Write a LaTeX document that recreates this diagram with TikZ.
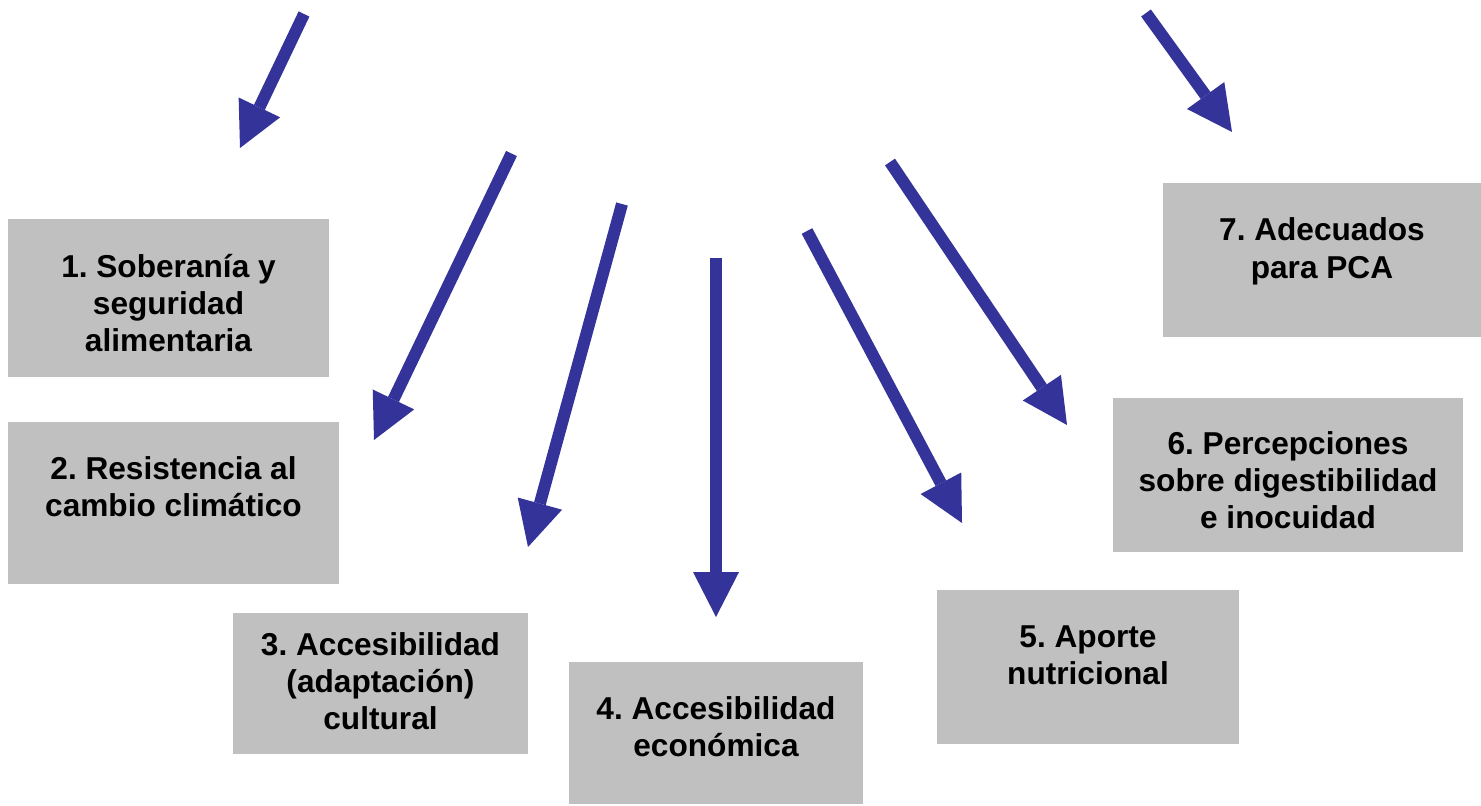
\documentclass[tikz,border=0pt]{standalone}
\usepackage{fontspec}
\setmainfont{Liberation Sans}
\usepackage{tikz}
\usetikzlibrary{arrows.meta}

\definecolor{arrowblue}{HTML}{333399}
\definecolor{boxgray}{HTML}{C0C0C0}

\frenchspacing

\begin{document}
\begin{tikzpicture}[
  box/.style={
    fill=boxgray, inner sep=0pt, align=center,
    font=\fontsize{18}{21}\selectfont\bfseries
  },
  arrow/.style={-{Triangle[length=9mm, width=9.2mm, line width=0pt]}, line width=2.4mm, arrowblue},
]
  \useasboundingbox (0,0) rectangle (29.62,-16.1);

  % Boxes (text height/depth set the text's place in the box)
  \node[box, minimum width=6.42cm, minimum height=3.16cm, text height=61pt, text depth=0pt]
    (soberania) at (3.37,-5.96) {1. Soberanía y\\seguridad\\alimentaria};
  \node[box, minimum width=6.62cm, minimum height=3.24cm, text height=34pt, text depth=19pt]
    (clima) at (3.47,-10.06) {2. Resistencia al\\cambio climático};
  \node[box, minimum width=5.90cm, minimum height=2.82cm, text height=55pt, text depth=3pt]
    (cultural) at (7.61,-13.67) {3. Accesibilidad\\(adaptación)\\cultural};
  \node[box, minimum width=5.88cm, minimum height=2.84cm, text height=34pt, text depth=7pt]
    (economica) at (14.32,-14.66) {4. Accesibilidad\\económica};
  \node[box, minimum width=6.04cm, minimum height=3.08cm, text height=34pt, text depth=14.5pt]
    (nutricion) at (21.76,-13.34) {5. Aporte\\nutricional};
  \node[box, minimum width=7.00cm, minimum height=3.08cm, text height=61pt, text depth=0pt]
    (percepcion) at (25.76,-9.50) {6. Percepciones\\sobre digestibilidad\\e inocuidad};
  \node[box, minimum width=6.36cm, minimum height=3.08cm, text height=34.5pt, text depth=14pt,
    font=\fontsize{18}{21.5}\selectfont\bfseries]
    (pca) at (26.44,-5.20) {7. Adecuados\\para PCA};

  % Arrow ends
  \coordinate (src1) at (6.08,-0.28);   \coordinate (tip1) at (4.80,-2.96);
  \coordinate (src2) at (10.23,-3.07);  \coordinate (tip2) at (7.48,-8.80);
  \coordinate (src3) at (12.44,-4.08);  \coordinate (tip3) at (10.56,-10.94);
  \coordinate (src4) at (14.32,-5.16);  \coordinate (tip4) at (14.32,-12.34);
  \coordinate (src5) at (16.14,-4.62);  \coordinate (tip5) at (19.24,-10.46);
  \coordinate (src6) at (17.80,-3.24);  \coordinate (tip6) at (21.34,-8.50);
  \coordinate (src7) at (22.92,-0.26);  \coordinate (tip7) at (24.64,-2.64);

  % Arrows
  \draw[arrow] (src1) -- (tip1);
  \draw[arrow] (src2) -- (tip2);
  \draw[arrow] (src3) -- (tip3);
  \draw[arrow] (src4) -- (tip4);
  \draw[arrow] (src5) -- (tip5);
  \draw[arrow] (src6) -- (tip6);
  \draw[arrow] (src7) -- (tip7);

\end{tikzpicture}
\end{document}
